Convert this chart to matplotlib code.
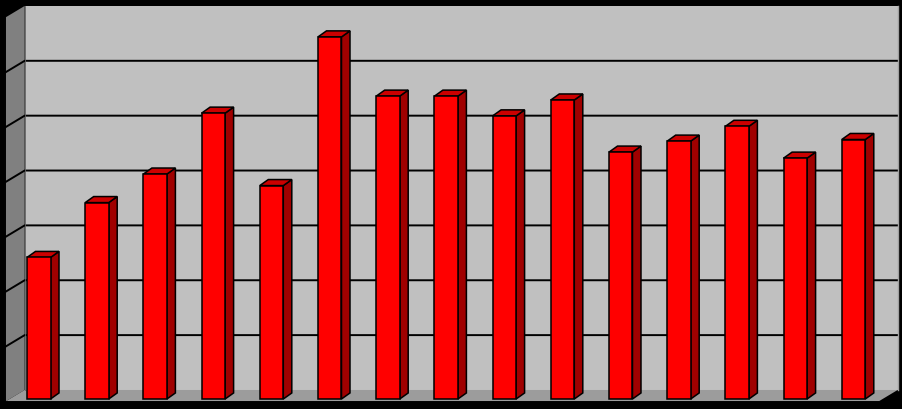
import matplotlib
matplotlib.use('Agg')
import matplotlib.pyplot as plt
from matplotlib.patches import Polygon

# values (one gridline = 10 units)
categories = list(range(1, 16))
values = [25.8, 35.8, 41.0, 52.1, 38.9, 66.0, 55.2, 55.2, 51.6, 54.5,
          45.0, 47.0, 49.7, 43.9, 47.3]
yticks = [0, 10, 20, 30, 40, 50, 60, 70]

fig = plt.figure(figsize=(9.03, 4.10), dpi=100)
fig.patch.set_facecolor('black')
ax = fig.add_axes([0, 0, 1, 1])
ax.set_facecolor('black')
ax.axis('off')
ax.set_xlim(-0.6658, 14.85)
ax.set_ylim(-1.823, 72.91)

# depth offsets in data units (pseudo 3d)
bx, by = 0.258, 1.645     # back wall
fx, fy = -0.086, -0.548   # front edge of floor
dx, dy = 0.146, 1.10      # bar depth
w = 0.404                 # bar width

x0 = -0.5
x1 = len(values) - 0.5
top = yticks[-1]

# walls
ax.add_patch(Polygon([(x0 + bx, by), (x1 + bx, by), (x1 + bx, top + by), (x0 + bx, top + by)],
                     closed=True, facecolor='#c0c0c0', edgecolor='none', zorder=1))
ax.add_patch(Polygon([(x0 + fx, fy), (x0 + bx, by), (x0 + bx, top + by), (x0 + fx, top + fy)],
                     closed=True, facecolor='#808080', edgecolor='none', zorder=1))
ax.add_patch(Polygon([(x0 + fx, fy), (x1 + fx, fy), (x1 + bx, by), (x0 + bx, by)],
                     closed=True, facecolor='#9c9c9c', edgecolor='none', zorder=1))

# gridlines on back and left wall
for v in yticks[1:-1]:
    ax.plot([x0 + fx, x0 + bx, x1 + bx], [v + fy, v + by, v + by], color='black', lw=1.4, zorder=2)
ax.plot([x0 + fx, x0 + fx], [fy, top + fy], color='black', lw=1.4, zorder=2)
ax.plot([x0 + bx, x0 + bx], [by, top + by], color='#606060', lw=0.6, zorder=2)
ax.plot([x1 + bx, x1 + bx], [by, top + by], color='#a0a0a0', lw=1.0, zorder=2)
ax.plot([x0 + fx, x1 + fx], [fy, fy], color='black', lw=1.4, zorder=2)

# bars
for i, v in enumerate(values):
    l, r = i - w / 2, i + w / 2
    ax.add_patch(Polygon([(r, 0), (r + dx, dy), (r + dx, v + dy), (r, v)], closed=True,
                         facecolor='#a00000', edgecolor='black', lw=1.1, zorder=3))
    ax.add_patch(Polygon([(l, v), (r, v), (r + dx, v + dy), (l + dx, v + dy)], closed=True,
                         facecolor='#cc0000', edgecolor='black', lw=1.1, zorder=3))
    ax.add_patch(Polygon([(l, 0), (r, 0), (r, v), (l, v)], closed=True,
                         facecolor='#ff0000', edgecolor='black', lw=1.1, zorder=4))

fig.savefig('out.png', dpi=100, facecolor='black')
